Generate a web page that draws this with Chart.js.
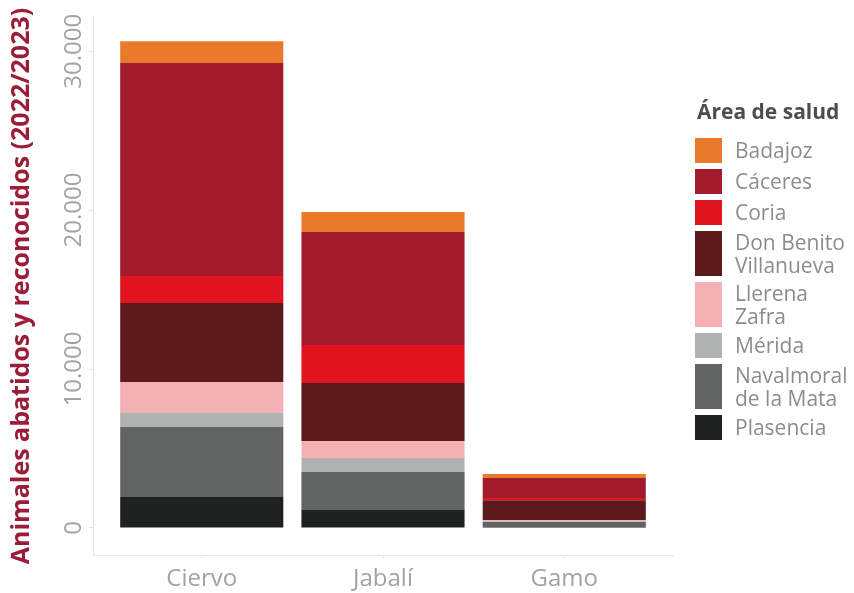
<!DOCTYPE html>
<html lang="es">
<head>
<meta charset="utf-8">
<title>Animales abatidos y reconocidos (2022/2023)</title>
<script src="https://cdn.jsdelivr.net/npm/chart.js@4.4.1/dist/chart.umd.min.js"></script>
<style>
  body { margin: 0; background: #fff; font-family: "Open Sans", sans-serif; }
  #wrap { position: relative; width: 854px; height: 593px; }
  #legend { position: absolute; left: 695px; top: 96px; }
  #legend .title { font-weight: 700; font-size: 21px; color: #4d4d4d; height: 30px; line-height: 30px; margin-bottom: 12px; padding-left: 2px; }
  #legend .item { display: flex; align-items: center; margin-bottom: 6px; }
  #legend .box { width: 27px; align-self: stretch; min-height: 25px; }
  #legend .label { font-size: 21px; line-height: 22.5px; color: #8c8c8c; margin-left: 13px; }
</style>
</head>
<body>
<div id="wrap">
  <canvas id="chart" width="854" height="593"></canvas>
  <div id="legend"></div>
</div>
<script>
// =========================
// Data
// =========================
const categories = ["Ciervo", "Jabalí", "Gamo"];
const areas = ["Badajoz", "Cáceres", "Coria", "Don Benito\nVillanueva", "Llerena\nZafra", "Mérida", "Navalmoral\nde la Mata", "Plasencia"];
const areaColors = ["#e97a2b", "#a31b2c", "#df141f", "#5c1a1d", "#f3b1b6", "#b0b1b1", "#616463", "#1f2120"];

const badajoz = [1380, 1260, 250];
const caceres = [13400, 7110, 1250];
const coria = [1700, 2390, 150];
const donBenito = [4970, 3650, 1260];
const llerena = [1950, 1070, 60];
const merida = [880, 880, 50];
const navalmoral = [4400, 2390, 310];
const plasencia = [1950, 1130, 60];

const yTicks = [0, 10000, 20000, 30000];

const seriesValues = [badajoz, caceres, coria, donBenito, llerena, merida, navalmoral, plasencia];

// thousands with a dot, e.g. 30.000
function fmt(v) {
  return String(v).replace(/\B(?=(\d{3})+(?!\d))/g, ".");
}

// =========================
// Datasets: first one stacks at the bottom, so go in reverse
// =========================
const datasets = areas
  .map((name, i) => ({
    label: name.replace("\n", " "),
    data: categories.map((c, j) => ({ x: j + 1, y: seriesValues[i][j] })),
    backgroundColor: areaColors[i],
    borderWidth: 0,
    categoryPercentage: 0.9,
    barPercentage: 1,
  }))
  .reverse();

// rotated y tick labels (Chart.js rotates only x labels nicely)
const yTickLabels = {
  id: "yTickLabels",
  afterDraw(chart) {
    const { ctx } = chart;
    const y = chart.scales.y;
    ctx.save();
    ctx.font = "24px 'Open Sans'";
    ctx.fillStyle = "#a3a3a3";
    ctx.textAlign = "center";
    ctx.textBaseline = "middle";
    yTicks.forEach((v) => {
      ctx.save();
      ctx.translate(74, y.getPixelForValue(v));
      ctx.rotate(-Math.PI / 2);
      ctx.fillText(fmt(v), 0, 0);
      ctx.restore();
    });
    ctx.restore();
  },
};

new Chart(document.getElementById("chart"), {
  type: "bar",
  data: { datasets },
  options: {
    responsive: false,
    animation: false,
    layout: { padding: { top: 17, right: 181, bottom: 0, left: 0 } },
    plugins: {
      legend: { display: false },
      tooltip: { enabled: false },
    },
    scales: {
      x: {
        type: "linear",
        stacked: true,
        offset: false,
        min: 0.4,
        max: 3.6,
        afterBuildTicks: (scale) => {
          scale.ticks = categories.map((c, i) => ({ value: i + 1 }));
        },
        afterFit: (scale) => {
          scale.height = 38;
        },
        ticks: {
          callback: (v) => categories[v - 1],
          font: { family: "'Open Sans'", size: 24 },
          color: "#a3a3a3",
          padding: 6,
          maxRotation: 0,
        },
        grid: { offset: false, drawOnChartArea: false, tickLength: 4, color: "#e6e6e6" },
        border: { color: "#e6e6e6" },
      },
      y: {
        stacked: true,
        min: -1700,
        max: 32150,
        afterBuildTicks: (scale) => {
          scale.ticks = yTicks.map((v) => ({ value: v }));
        },
        afterFit: (scale) => {
          scale.width = 93;
        },
        ticks: { display: false },
        grid: { drawOnChartArea: false, tickLength: 4, color: "#e6e6e6" },
        border: { color: "#e6e6e6" },
        title: {
          display: true,
          text: "Animales abatidos y reconocidos (2022/2023)",
          color: "#9b1d38",
          font: { family: "'Open Sans'", size: 25, weight: "bold" },
          padding: { top: 7, bottom: 0 },
        },
      },
    },
  },
  plugins: [yTickLabels],
});

// =========================
// HTML legend built from the same arrays
// =========================
const legendEl = document.getElementById("legend");
legendEl.innerHTML = `<div class="title">Área de salud</div>`;
areas.forEach((name, i) => {
  legendEl.innerHTML += `
    <div class="item">
      <div class="box" style="background:${areaColors[i]}"></div>
      <div class="label">${name.split("\n").join("<br>")}</div>
    </div>`;
});
</script>
</body>
</html>
